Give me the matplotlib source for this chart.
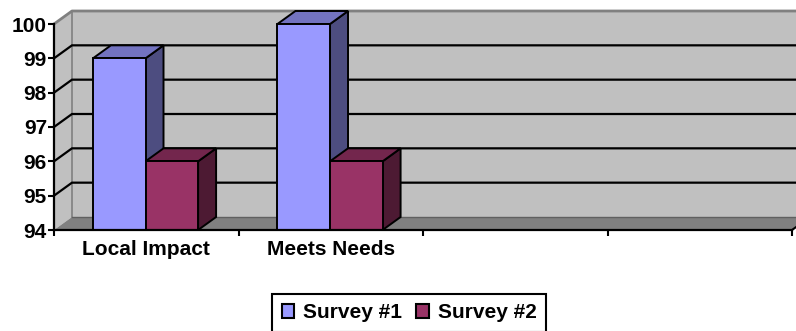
import matplotlib
matplotlib.use("Agg")
import matplotlib.pyplot as plt
from matplotlib.patches import Polygon, Rectangle, Patch

# Chart data
categories = ["Local Impact", "Meets Needs", "", ""]
series_names = ["Survey #1", "Survey #2"]
survey1 = [99, 100, None, None]
survey2 = [96, 96, None, None]
y_ticks = [94, 95, 96, 97, 98, 99, 100]

front_colors = ["#9999FF", "#993366"]
top_colors = ["#7373C0", "#73264D"]
side_colors = ["#4D4D80", "#4D1A33"]

plt.rcParams["font.family"] = ["Liberation Sans", "DejaVu Sans"]
plt.rcParams["font.weight"] = "bold"
FS = 15

W, H = 796, 331
fig = plt.figure(figsize=(W / 100, H / 100), dpi=100)
fig.patch.set_facecolor("white")

# front plane of the 3-D box, in figure pixels
left_px, right_px, bottom_px, top_px = 54, 792, 230, 24
ax = fig.add_axes([left_px / W, (H - bottom_px) / H,
                   (right_px - left_px) / W, (bottom_px - top_px) / H])
ax.patch.set_alpha(0)

ncat = len(categories)
ymin, ymax = y_ticks[0], y_ticks[-1]
ax.set_xlim(0, ncat)
ax.set_ylim(ymin, ymax)

# depth offset of the 3-D projection expressed in data units
dx = 18 / (right_px - left_px) * ncat
dy = 13 / (bottom_px - top_px) * (ymax - ymin)

wall = "#C0C0C0"
floor = "#808080"
edge_gray = "#808080"

# back wall, side wall and floor
ax.add_patch(Polygon([(dx, ymin + dy), (ncat + dx, ymin + dy),
                      (ncat + dx, ymax + dy), (dx, ymax + dy)],
                     closed=True, fc=wall, ec="none", zorder=0, clip_on=False))
ax.add_patch(Polygon([(0, ymin), (dx, ymin + dy), (dx, ymax + dy), (0, ymax)],
                     closed=True, fc=wall, ec="none", zorder=0, clip_on=False))
ax.add_patch(Polygon([(0, ymin), (ncat, ymin), (ncat + dx, ymin + dy), (dx, ymin + dy)],
                     closed=True, fc=floor, ec="none", zorder=0.5, clip_on=False))

# wall edges
ax.plot([0, dx, ncat + dx], [ymax, ymax + dy, ymax + dy], color=edge_gray,
        lw=2, zorder=0.6, clip_on=False, solid_capstyle="butt")
ax.plot([dx, dx], [ymin + dy, ymax + dy], color=edge_gray, lw=1.2,
        zorder=0.6, clip_on=False)
ax.plot([dx, ncat + dx], [ymin + dy, ymin + dy], color="#606060", lw=1.0,
        zorder=0.6, clip_on=False)
ax.plot([ncat, ncat + dx], [ymin, ymin + dy], color="black", lw=1.5,
        zorder=0.6, clip_on=False)

# gridlines on the side wall and the back wall
for v in y_ticks[1:-1]:
    ax.plot([0, dx, ncat + dx], [v, v + dy, v + dy], color="black", lw=1.6,
            zorder=0.7, clip_on=False, solid_joinstyle="miter")

# 3-D bars
bar_w = 0.285
offset = 0.211
for j, values in enumerate([survey1, survey2]):
    z = 2 + j
    for i, v in enumerate(values):
        if v is None:
            continue
        x0 = i + offset + j * bar_w
        side = Polygon([(x0 + bar_w, ymin), (x0 + bar_w + dx, ymin + dy),
                        (x0 + bar_w + dx, v + dy), (x0 + bar_w, v)],
                       closed=True, fc=side_colors[j], ec="black", lw=1.4,
                       zorder=z, clip_on=False, joinstyle="miter")
        top = Polygon([(x0, v), (x0 + bar_w, v), (x0 + bar_w + dx, v + dy),
                       (x0 + dx, v + dy)],
                      closed=True, fc=top_colors[j], ec="black", lw=1.4,
                      zorder=z, clip_on=False, joinstyle="miter")
        front = Rectangle((x0, ymin), bar_w, v - ymin, fc=front_colors[j],
                          ec="black", lw=1.4, zorder=z + 0.1, clip_on=False,
                          joinstyle="miter")
        ax.add_patch(side)
        ax.add_patch(top)
        ax.add_patch(front)

# axes
for s in ["top", "right"]:
    ax.spines[s].set_visible(False)
for s in ["left", "bottom"]:
    ax.spines[s].set_linewidth(1.6)
    ax.spines[s].set_color("black")
    ax.spines[s].set_zorder(5)

ax.set_yticks(y_ticks)
ax.set_yticklabels([str(t) for t in y_ticks], fontsize=FS, fontweight="bold")
ax.tick_params(axis="y", direction="out", length=4.5, width=1.5, pad=0.6,
               colors="black")

ax.set_xticks(range(ncat + 1))
ax.set_xticklabels([])
ax.set_xticks([i + 0.5 for i in range(ncat)], minor=True)
ax.set_xticklabels(categories, minor=True, fontsize=FS, fontweight="bold")
ax.tick_params(axis="x", which="major", direction="out", length=4.5, width=1.5)
ax.tick_params(axis="x", which="minor", length=0, pad=7)

# legend
handles = [Patch(fc=c, ec="black", lw=1.5) for c in front_colors]
leg = fig.legend(handles, series_names, loc="upper center",
                 bbox_to_anchor=(409 / W, 1 - 294 / H), ncol=2,
                 frameon=True, fancybox=False, edgecolor="black",
                 prop={"family": ["Liberation Sans"], "weight": "bold", "size": FS},
                 handlelength=0.62, handleheight=0.62, handletextpad=0.4,
                 columnspacing=0.7, borderpad=0.45, borderaxespad=0)
leg.get_frame().set_linewidth(1.5)
leg.get_frame().set_alpha(1)

fig.savefig("out.png", dpi=100, facecolor="white")
